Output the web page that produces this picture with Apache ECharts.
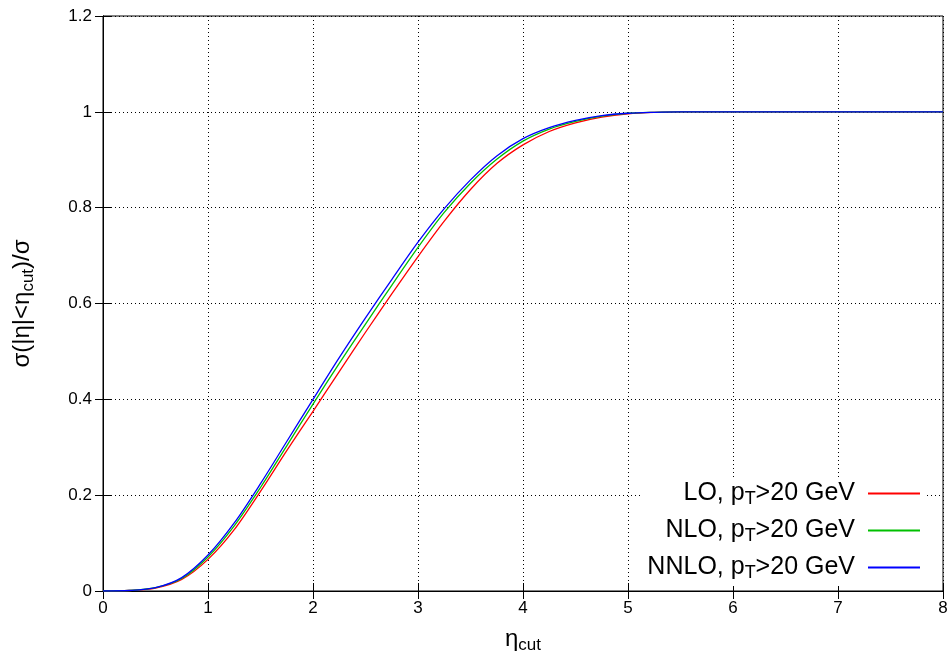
<!DOCTYPE html>
<html><head><meta charset="utf-8">
<script src="https://cdn.jsdelivr.net/npm/echarts@6/dist/echarts.min.js"></script>
<style>html,body{margin:0;padding:0;background:#fff}#c{width:952px;height:660px}</style>
</head><body><div id="c"></div>
<script>
const etaCut = [0,0.25,0.5,0.75,1.0,1.25,1.5,1.75,2.0,2.25,2.5,2.75,3.0,3.25,3.5,3.75,4.0,4.25,4.5,4.75,5.0,5.25,5.5,6,7,8];
const lo   = [0,0.001,0.006,0.024,0.066,0.128,0.208,0.293,0.375,0.458,0.540,0.620,0.698,0.772,0.838,0.892,0.931,0.959,0.977,0.989,0.996,0.999,1.0,1.0,1.0,1.0];
const nlo  = [0,0.001,0.007,0.026,0.071,0.136,0.216,0.303,0.390,0.475,0.557,0.638,0.717,0.790,0.851,0.901,0.939,0.964,0.980,0.991,0.997,0.999,1.0,1.0,1.0,1.0];
const nnlo = [0,0.001,0.007,0.028,0.075,0.142,0.224,0.312,0.400,0.487,0.570,0.650,0.728,0.798,0.858,0.908,0.944,0.967,0.982,0.992,0.997,0.999,1.0,1.0,1.0,1.0];
const seriesNames = ['LO, p{s|T}>20 GeV','NLO, p{s|T}>20 GeV','NNLO, p{s|T}>20 GeV'];
const seriesIds = ['LO','NLO','NNLO'];
const colors = ['#ff0000','#00c000','#0000ff'];
const xTicks = [0,1,2,3,4,5,6,7,8];
const yTicks = [0,0.2,0.4,0.6,0.8,1,1.2];

const font = 'Liberation Sans, Arial, Helvetica, sans-serif';
const pair = (ys) => etaCut.map((x,i)=>[x,ys[i]]);
const grid = {show:true,left:103,right:9,top:16,bottom:69,borderColor:'#000',borderWidth:1,
  containLabel:false, outerBoundsMode:'none'};
const splitLine = {show:true,lineStyle:{color:'#000',type:[1,3],width:1}};
const chart = echarts.init(document.getElementById('c'),null,{renderer:'canvas'});
chart.setOption({
  animation:false,
  backgroundColor:'#fff',
  grid,
  legend:{
    orient:'vertical', right:26, bottom:74, align:'right',
    itemWidth:52, itemHeight:2, itemGap:10, icon:'rect',
    backgroundColor:'#fff', padding:[4,6,4,6],
    data: seriesIds,
    formatter:(n)=>seriesNames[seriesIds.indexOf(n)],
    textStyle:{fontFamily:font,fontSize:25,color:'#000',padding:[0,8,0,0],
      rich:{s:{fontFamily:font,fontSize:18,verticalAlign:'bottom',padding:[11,0,0,0]}}}
  },
  xAxis:[{
    type:'value', min:0, max:8, interval:1,
    name:'η{s|cut}', nameLocation:'middle', nameGap:34,
    nameTextStyle:{fontFamily:font,fontSize:24,color:'#000',
      rich:{s:{fontFamily:font,fontSize:17,padding:[12,0,0,0]}}},
    axisLine:{show:true,lineStyle:{color:'#000'}},
    axisTick:{show:true,inside:true,length:8,lineStyle:{color:'#000'}},
    axisLabel:{fontFamily:font,fontSize:17,color:'#000',margin:9},
    splitLine
  },{
    type:'value', min:0, max:8, interval:1, position:'top',
    axisLine:{show:true,lineStyle:{color:'#000'}},
    axisTick:{show:true,inside:true,length:8,lineStyle:{color:'#000'}},
    axisLabel:{show:false}, splitLine:{show:false}
  }],
  yAxis:[{
    type:'value', min:0, max:1.2, interval:0.2,
    name:'σ(|η|<η{s|cut})/σ', nameLocation:'middle', nameGap:66, nameRotate:90,
    nameTextStyle:{fontFamily:font,fontSize:24,color:'#000',
      rich:{s:{fontFamily:font,fontSize:17,padding:[12,0,0,0]}}},
    axisLine:{show:true,lineStyle:{color:'#000'}},
    axisTick:{show:true,inside:true,length:8,lineStyle:{color:'#000'}},
    axisLabel:{fontFamily:font,fontSize:17,color:'#000',margin:11,
      formatter:(v)=>String(Math.round(v*10)/10)},
    splitLine
  },{
    type:'value', min:0, max:1.2, interval:0.2, position:'right',
    axisLine:{show:true,lineStyle:{color:'#000'}},
    axisTick:{show:true,inside:true,length:8,lineStyle:{color:'#000'}},
    axisLabel:{show:false}, splitLine:{show:false}
  }],
  series:[lo,nlo,nnlo].map((d,i)=>({
    name:seriesIds[i], type:'line', data:pair(d), showSymbol:false, symbol:'none',
    smooth:0.3,
    lineStyle:{color:colors[i],width:1.3}, itemStyle:{color:colors[i]}
  }))
});
</script></body></html>
